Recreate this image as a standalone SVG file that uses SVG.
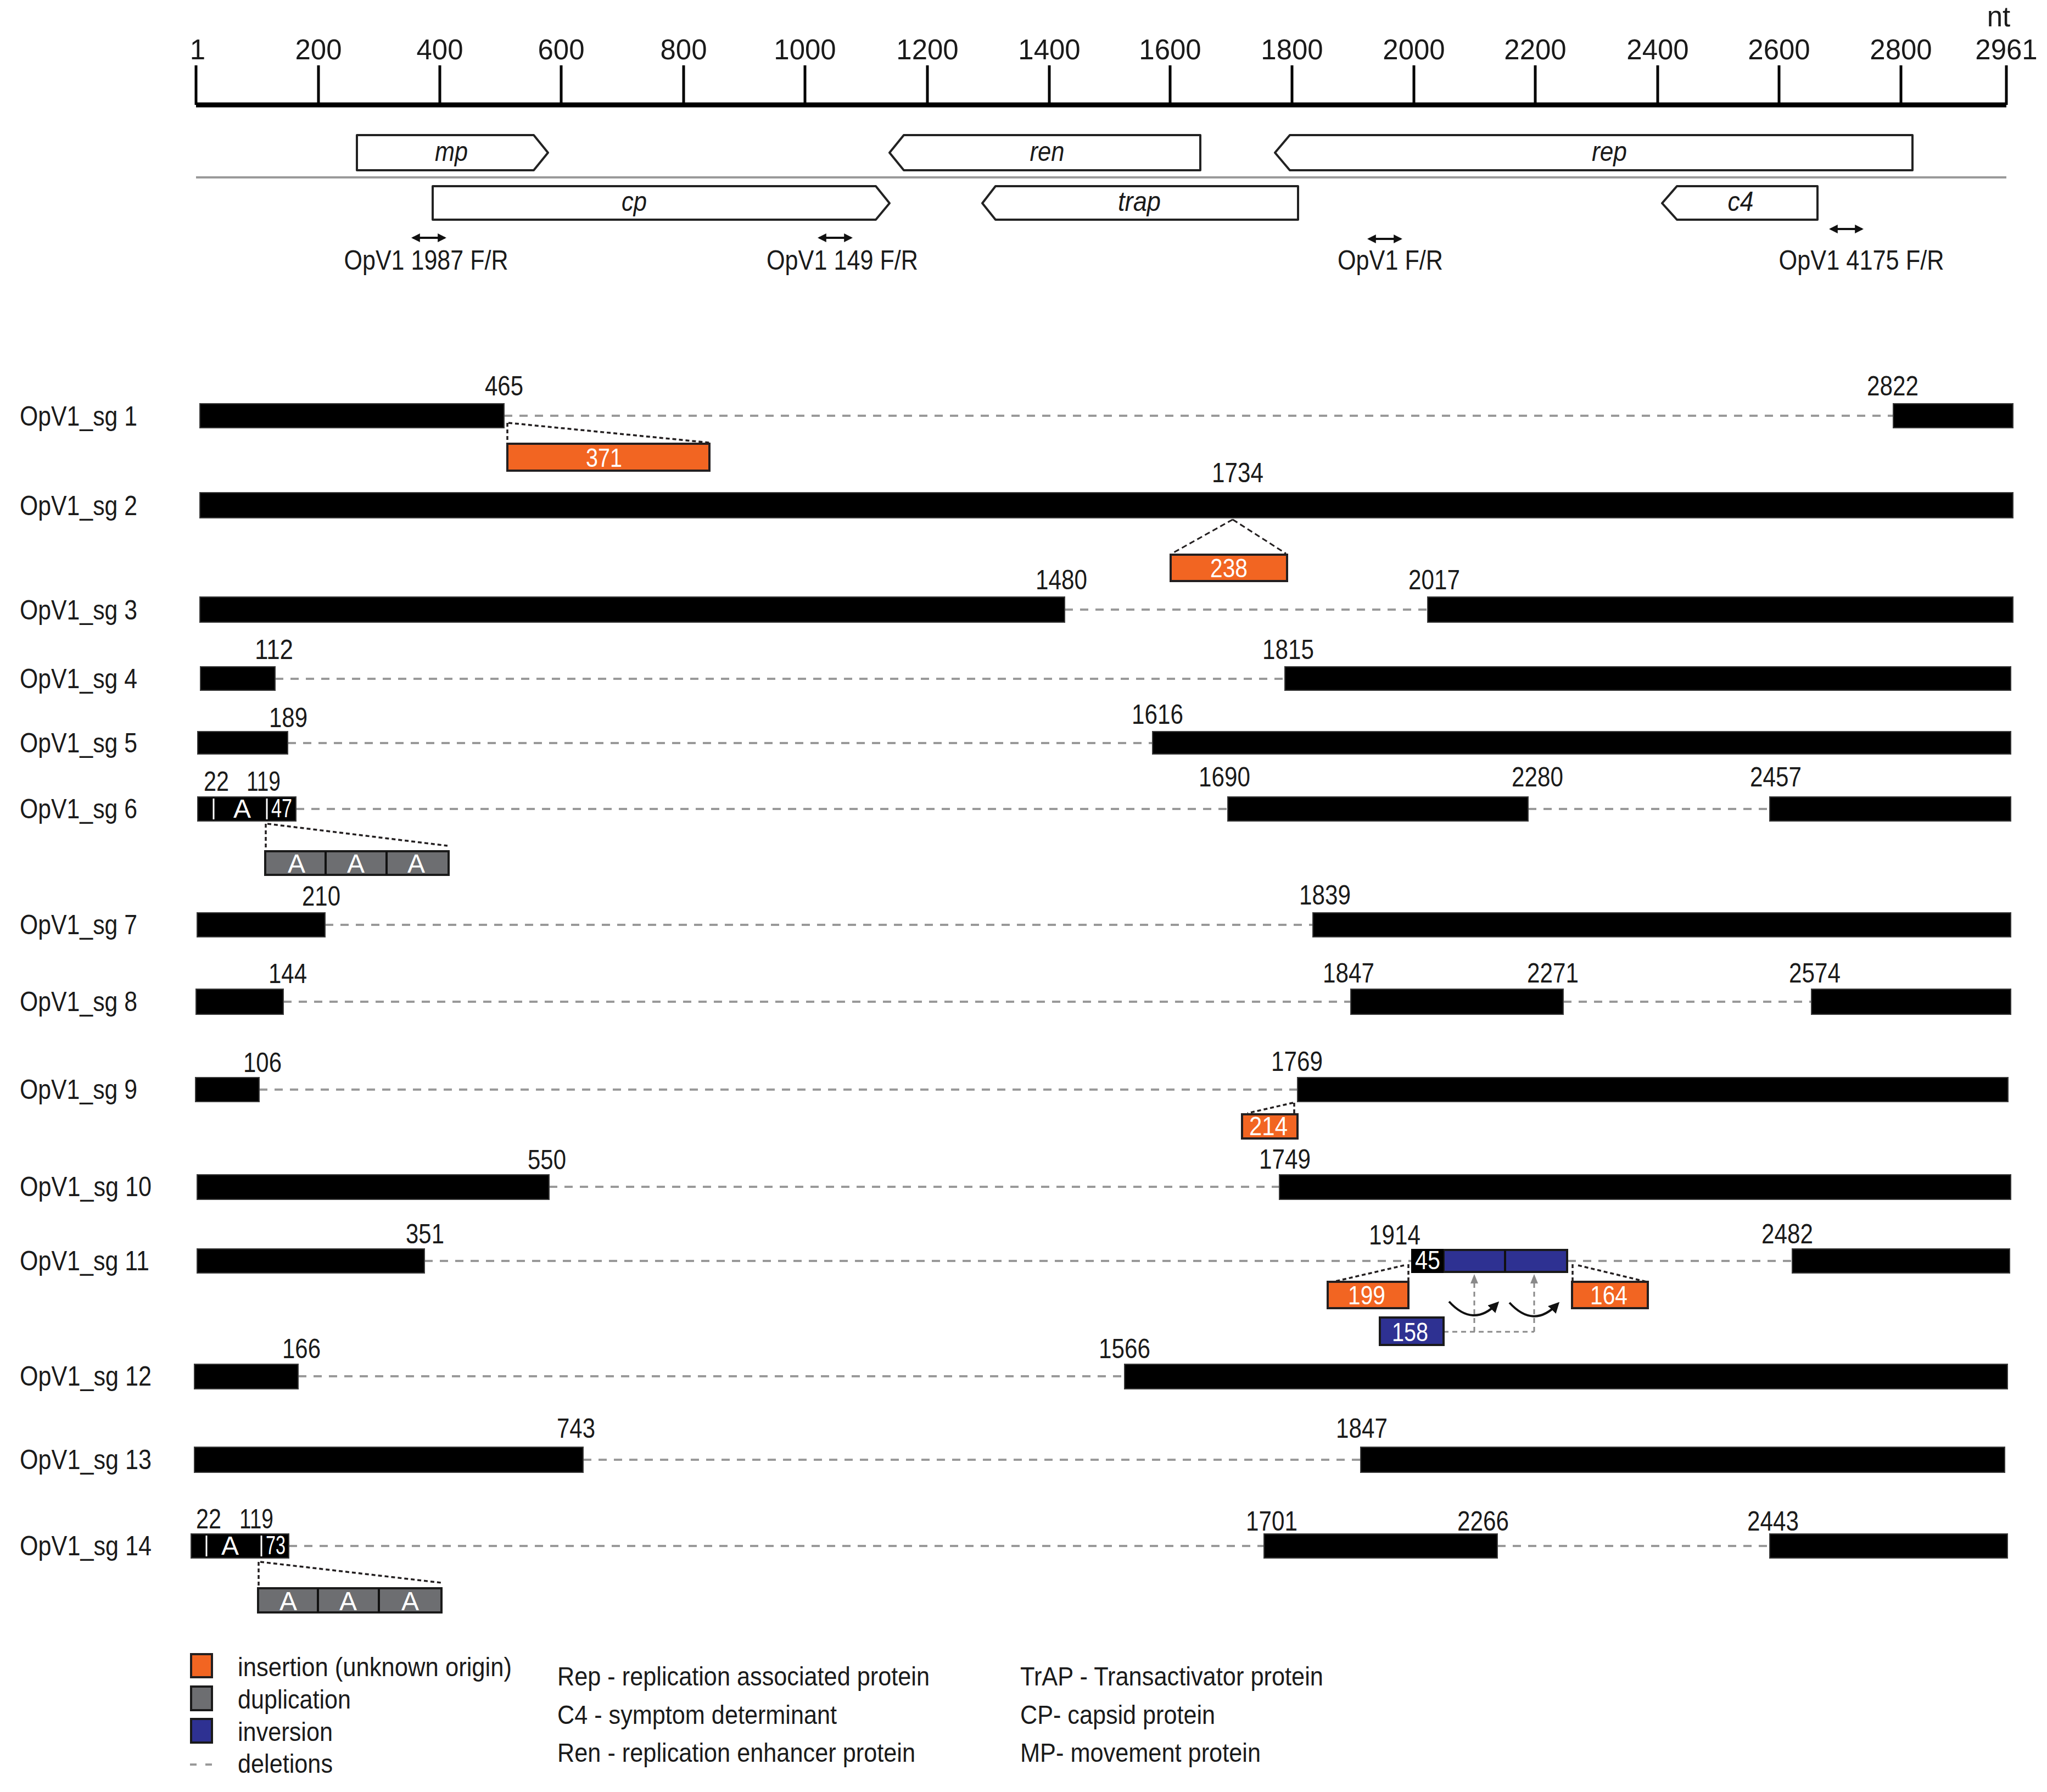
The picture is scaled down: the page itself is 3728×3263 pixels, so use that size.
<svg xmlns="http://www.w3.org/2000/svg" width="3728" height="3263" viewBox="0 0 3728 3263">
<style>
text{font-family:"Liberation Sans",Arial,sans-serif;fill:#1a1a1a}
.tk{font-size:51px;text-anchor:middle}
.lb{font-size:50px}
.n{font-size:50px;text-anchor:middle}
.w{font-size:48px;text-anchor:middle;fill:#fff}
.g{font-size:50px;font-style:italic;text-anchor:middle}
.lg{font-size:48px}
.bar{fill:#000;stroke:#3a3a3a;stroke-width:2}
.gene{fill:#fff;stroke:#222;stroke-width:4;stroke-linejoin:round}
.ins{fill:#F26522;stroke:#231F20;stroke-width:4}
.inv{fill:#2E3192;stroke:#1a1a1a;stroke-width:4}
.dup{fill:#6D6E71;stroke:#1a1a1a;stroke-width:4}
.del{stroke:#999;stroke-width:4;stroke-dasharray:15 13;fill:none}
.dot{stroke:#231F20;stroke-width:3.5;stroke-dasharray:7 5;fill:none}
.dsh{stroke:#231F20;stroke-width:3;stroke-dasharray:10 6;fill:none}
.wl{stroke:#fff;stroke-width:3}
.div{stroke:#111;stroke-width:4}
.prm{stroke:#111;stroke-width:4;marker-start:url(#ah);marker-end:url(#ah)}
.gd{stroke:#8a8a8a;stroke-width:3;stroke-dasharray:9 7;fill:none}
</style>
<defs>
<marker id="ah" viewBox="0 0 10 10" refX="8" refY="5" markerWidth="4" markerHeight="4" orient="auto-start-reverse"><path d="M0,0 L10,5 L0,10 z" fill="#111"/></marker>
<marker id="ca" viewBox="0 0 10 10" refX="7" refY="5" markerWidth="5" markerHeight="5" orient="auto"><path d="M0,0 L10,5 L0,10 z" fill="#111"/></marker>
</defs>
<rect width="3728" height="3263" fill="#fff"/>

<g id="ruler">
<line x1="357" y1="191" x2="3654" y2="191" stroke="#000" stroke-width="9"/>
<g stroke="#000" stroke-width="5">
<line x1="357" y1="119" x2="357" y2="191"/><line x1="580" y1="119" x2="580" y2="191"/><line x1="801" y1="119" x2="801" y2="191"/><line x1="1022" y1="119" x2="1022" y2="191"/><line x1="1245" y1="119" x2="1245" y2="191"/><line x1="1466" y1="119" x2="1466" y2="191"/><line x1="1689" y1="119" x2="1689" y2="191"/><line x1="1911" y1="119" x2="1911" y2="191"/><line x1="2131" y1="119" x2="2131" y2="191"/><line x1="2353" y1="119" x2="2353" y2="191"/><line x1="2575" y1="119" x2="2575" y2="191"/><line x1="2796" y1="119" x2="2796" y2="191"/><line x1="3019" y1="119" x2="3019" y2="191"/><line x1="3240" y1="119" x2="3240" y2="191"/><line x1="3462" y1="119" x2="3462" y2="191"/><line x1="3654" y1="119" x2="3654" y2="191"/>
</g>
<text class="tk" x="360" y="108">1</text><text class="tk" x="580" y="108">200</text><text class="tk" x="801" y="108">400</text><text class="tk" x="1022" y="108">600</text><text class="tk" x="1245" y="108">800</text><text class="tk" x="1466" y="108">1000</text><text class="tk" x="1689" y="108">1200</text><text class="tk" x="1911" y="108">1400</text><text class="tk" x="2131" y="108">1600</text><text class="tk" x="2353" y="108">1800</text><text class="tk" x="2575" y="108">2000</text><text class="tk" x="2796" y="108">2200</text><text class="tk" x="3019" y="108">2400</text><text class="tk" x="3240" y="108">2600</text><text class="tk" x="3462" y="108">2800</text><text class="tk" x="3654" y="108">2961</text>
<text class="tk" x="3640" y="48">nt</text>
<line x1="357" y1="323" x2="3654" y2="323" stroke="#999" stroke-width="4"/>
</g>

<g id="genes">
<g id="gene-mp"><polygon class="gene" points="650,246 972,246 998,278 972,310 650,310"/><text class="g" x="822" y="293" textLength="60" lengthAdjust="spacingAndGlyphs">mp</text></g>
<g id="gene-ren"><polygon class="gene" points="1620,278 1646,246 2186,246 2186,310 1646,310"/><text class="g" x="1907" y="293" textLength="63" lengthAdjust="spacingAndGlyphs">ren</text></g>
<g id="gene-rep"><polygon class="gene" points="2322,278 2349,246 3483,246 3483,310 2349,310"/><text class="g" x="2931" y="293" textLength="64" lengthAdjust="spacingAndGlyphs">rep</text></g>
<g id="gene-cp"><polygon class="gene" points="788,339 1595,339 1620,370 1595,400 788,400"/><text class="g" x="1155" y="384" textLength="46" lengthAdjust="spacingAndGlyphs">cp</text></g>
<g id="gene-trap"><polygon class="gene" points="1789,370 1813,339 2364,339 2364,400 1813,400"/><text class="g" x="2075" y="384" textLength="78" lengthAdjust="spacingAndGlyphs">trap</text></g>
<g id="gene-c4"><polygon class="gene" points="3027,370 3054,339 3310,339 3310,400 3054,400"/><text class="g" x="3170" y="384" textLength="47" lengthAdjust="spacingAndGlyphs">c4</text></g>
</g>

<g id="primers">
<g id="primer-1987"><line class="prm" x1="752" y1="433" x2="810" y2="433"/><text class="n" x="776" y="491" textLength="299" lengthAdjust="spacingAndGlyphs">OpV1 1987 F/R</text></g>
<g id="primer-149"><line class="prm" x1="1492" y1="433" x2="1550" y2="433"/><text class="n" x="1534" y="491" textLength="276" lengthAdjust="spacingAndGlyphs">OpV1 149 F/R</text></g>
<g id="primer-fr"><line class="prm" x1="2493" y1="435" x2="2551" y2="435"/><text class="n" x="2532" y="491" textLength="192" lengthAdjust="spacingAndGlyphs">OpV1 F/R</text></g>
<g id="primer-4175"><line class="prm" x1="3334" y1="417" x2="3391" y2="417"/><text class="n" x="3390" y="491" textLength="301" lengthAdjust="spacingAndGlyphs">OpV1 4175 F/R</text></g>
</g>

<g id="connectors">
<line class="del" x1="918" y1="757" x2="3448" y2="757"/>
<line class="del" x1="1939" y1="1110" x2="2600" y2="1110"/>
<line class="del" x1="501" y1="1236" x2="2340" y2="1236"/>
<line class="del" x1="524" y1="1353" x2="2099" y2="1353"/>
<line class="del" x1="539" y1="1473" x2="2236" y2="1473"/>
<line class="del" x1="2783" y1="1473" x2="3223" y2="1473"/>
<line class="del" x1="592" y1="1684" x2="2391" y2="1684"/>
<line class="del" x1="516" y1="1824" x2="2460" y2="1824"/>
<line class="del" x1="2847" y1="1824" x2="3299" y2="1824"/>
<line class="del" x1="472" y1="1984" x2="2363" y2="1984"/>
<line class="del" x1="1000" y1="2161" x2="2330" y2="2161"/>
<line class="del" x1="773" y1="2296" x2="2570" y2="2296"/>
<line class="del" x1="2855" y1="2296" x2="3264" y2="2296"/>
<line class="del" x1="543" y1="2506" x2="2048" y2="2506"/>
<line class="del" x1="1062" y1="2658" x2="2478" y2="2658"/>
<line class="del" x1="526" y1="2815" x2="2302" y2="2815"/>
<line class="del" x1="2727" y1="2815" x2="3223" y2="2815"/>
<path class="dot" d="M924,770 V806 M926,770 L1292,806"/>
<path class="dsh" d="M2245,946 L2134,1008 M2245,946 L2342,1008"/>
<path class="dot" d="M484,1500 V1546 M487,1500 L815,1540"/>
<path class="dot" d="M2357,2008 V2027 M2355,2008 L2272,2027"/>
<path class="dot" d="M2565,2302 V2332 M2557,2304 L2428,2334 M2864,2302 V2332 M2874,2304 L2999,2334"/>
<path class="gd" d="M2629,2425 H2794 M2685,2425 V2336 M2794,2425 V2336"/>
<polygon points="2685,2320 2678,2337 2692,2337" fill="#8a8a8a"/>
<polygon points="2794,2320 2787,2337 2801,2337" fill="#8a8a8a"/>
<path d="M2639,2370 Q2683,2418 2726,2374" fill="none" stroke="#111" stroke-width="4" marker-end="url(#ca)"/>
<path d="M2749,2372 Q2793,2420 2836,2375" fill="none" stroke="#111" stroke-width="4" marker-end="url(#ca)"/>
<path class="dot" d="M471,2844 V2889 M474,2844 L804,2882"/>
</g>

<g id="sg1"><text class="lb" x="36" y="775" textLength="214" lengthAdjust="spacingAndGlyphs">OpV1_sg 1</text>
<rect class="bar" x="364" y="735" width="554" height="44"/><rect class="bar" x="3448" y="735" width="218" height="44"/>
<text class="n" x="918" y="720" textLength="70" lengthAdjust="spacingAndGlyphs">465</text><text class="n" x="3447" y="720" textLength="94" lengthAdjust="spacingAndGlyphs">2822</text>
<rect class="ins" x="924" y="808" width="368" height="49"/><text class="w" x="1100" y="850" textLength="66" lengthAdjust="spacingAndGlyphs">371</text></g>

<g id="sg2"><text class="lb" x="36" y="938" textLength="214" lengthAdjust="spacingAndGlyphs">OpV1_sg 2</text>
<rect class="bar" x="364" y="897" width="3302" height="46"/>
<text class="n" x="2254" y="878" textLength="94" lengthAdjust="spacingAndGlyphs">1734</text>
<rect class="ins" x="2132" y="1010" width="212" height="48"/><text class="w" x="2238" y="1051" textLength="68" lengthAdjust="spacingAndGlyphs">238</text></g>

<g id="sg3"><text class="lb" x="36" y="1128" textLength="214" lengthAdjust="spacingAndGlyphs">OpV1_sg 3</text>
<rect class="bar" x="364" y="1087" width="1575" height="46"/><rect class="bar" x="2600" y="1087" width="1066" height="46"/>
<text class="n" x="1933" y="1073" textLength="94" lengthAdjust="spacingAndGlyphs">1480</text><text class="n" x="2612" y="1073" textLength="94" lengthAdjust="spacingAndGlyphs">2017</text></g>

<g id="sg4"><text class="lb" x="36" y="1253" textLength="214" lengthAdjust="spacingAndGlyphs">OpV1_sg 4</text>
<rect class="bar" x="365" y="1214" width="136" height="43"/><rect class="bar" x="2340" y="1214" width="1322" height="43"/>
<text class="n" x="499" y="1200" textLength="70" lengthAdjust="spacingAndGlyphs">112</text><text class="n" x="2346" y="1200" textLength="94" lengthAdjust="spacingAndGlyphs">1815</text></g>

<g id="sg5"><text class="lb" x="36" y="1370" textLength="214" lengthAdjust="spacingAndGlyphs">OpV1_sg 5</text>
<rect class="bar" x="360" y="1332" width="164" height="41"/><rect class="bar" x="2099" y="1332" width="1563" height="41"/>
<text class="n" x="525" y="1324" textLength="70" lengthAdjust="spacingAndGlyphs">189</text><text class="n" x="2108" y="1318" textLength="94" lengthAdjust="spacingAndGlyphs">1616</text></g>

<g id="sg6"><text class="lb" x="36" y="1490" textLength="214" lengthAdjust="spacingAndGlyphs">OpV1_sg 6</text>
<rect class="bar" x="360" y="1451" width="179" height="44"/>
<line class="wl" x1="389" y1="1454" x2="389" y2="1492"/><line class="wl" x1="486" y1="1454" x2="486" y2="1492"/>
<text class="w" x="441" y="1489" font-size="42">A</text><text class="w" x="513" y="1488" font-size="40" textLength="38" lengthAdjust="spacingAndGlyphs">47</text>
<rect class="bar" x="2236" y="1451" width="547" height="44"/><rect class="bar" x="3223" y="1451" width="439" height="44"/>
<text class="n" x="394" y="1440" font-size="46" textLength="46" lengthAdjust="spacingAndGlyphs">22</text><text class="n" x="480" y="1440" font-size="46" textLength="62" lengthAdjust="spacingAndGlyphs">119</text>
<text class="n" x="2230" y="1432" textLength="94" lengthAdjust="spacingAndGlyphs">1690</text><text class="n" x="2800" y="1432" textLength="94" lengthAdjust="spacingAndGlyphs">2280</text><text class="n" x="3234" y="1432" textLength="94" lengthAdjust="spacingAndGlyphs">2457</text>
<rect class="dup" x="483" y="1550" width="334" height="43"/><line class="div" x1="593" y1="1550" x2="593" y2="1593"/><line class="div" x1="704" y1="1550" x2="704" y2="1593"/>
<text class="w" x="540" y="1589" font-size="44">A</text><text class="w" x="648" y="1589" font-size="44">A</text><text class="w" x="758" y="1589" font-size="44">A</text></g>

<g id="sg7"><text class="lb" x="36" y="1701" textLength="214" lengthAdjust="spacingAndGlyphs">OpV1_sg 7</text>
<rect class="bar" x="359" y="1662" width="233" height="44"/><rect class="bar" x="2391" y="1662" width="1271" height="44"/>
<text class="n" x="585" y="1649" textLength="70" lengthAdjust="spacingAndGlyphs">210</text><text class="n" x="2413" y="1647" textLength="94" lengthAdjust="spacingAndGlyphs">1839</text></g>

<g id="sg8"><text class="lb" x="36" y="1841" textLength="214" lengthAdjust="spacingAndGlyphs">OpV1_sg 8</text>
<rect class="bar" x="357" y="1801" width="159" height="46"/><rect class="bar" x="2460" y="1801" width="387" height="46"/><rect class="bar" x="3299" y="1801" width="363" height="46"/>
<text class="n" x="524" y="1790" textLength="70" lengthAdjust="spacingAndGlyphs">144</text><text class="n" x="2456" y="1789" textLength="94" lengthAdjust="spacingAndGlyphs">1847</text><text class="n" x="2828" y="1789" textLength="94" lengthAdjust="spacingAndGlyphs">2271</text><text class="n" x="3305" y="1789" textLength="94" lengthAdjust="spacingAndGlyphs">2574</text></g>

<g id="sg9"><text class="lb" x="36" y="2001" textLength="214" lengthAdjust="spacingAndGlyphs">OpV1_sg 9</text>
<rect class="bar" x="356" y="1962" width="116" height="44"/><rect class="bar" x="2363" y="1962" width="1294" height="44"/>
<text class="n" x="478" y="1952" textLength="70" lengthAdjust="spacingAndGlyphs">106</text><text class="n" x="2362" y="1950" textLength="94" lengthAdjust="spacingAndGlyphs">1769</text>
<rect class="ins" x="2262" y="2029" width="101" height="44"/><text class="w" x="2310" y="2067" textLength="70" lengthAdjust="spacingAndGlyphs">214</text></g>

<g id="sg10"><text class="lb" x="36" y="2178" textLength="240" lengthAdjust="spacingAndGlyphs">OpV1_sg 10</text>
<rect class="bar" x="359" y="2139" width="641" height="45"/><rect class="bar" x="2330" y="2139" width="1332" height="45"/>
<text class="n" x="996" y="2129" textLength="70" lengthAdjust="spacingAndGlyphs">550</text><text class="n" x="2340" y="2128" textLength="94" lengthAdjust="spacingAndGlyphs">1749</text></g>

<g id="sg11"><text class="lb" x="36" y="2313" textLength="236" lengthAdjust="spacingAndGlyphs">OpV1_sg 11</text>
<rect class="bar" x="359" y="2274" width="414" height="44"/><rect class="bar" x="3264" y="2274" width="396" height="44"/>
<rect class="inv" x="2629" y="2276" width="225" height="40"/><line class="div" x1="2741" y1="2276" x2="2741" y2="2316"/>
<rect x="2570" y="2274" width="59" height="44" fill="#000"/><text class="w" x="2600" y="2311" textLength="46" lengthAdjust="spacingAndGlyphs">45</text>
<text class="n" x="774" y="2264" textLength="70" lengthAdjust="spacingAndGlyphs">351</text><text class="n" x="2540" y="2266" textLength="94" lengthAdjust="spacingAndGlyphs">1914</text><text class="n" x="3255" y="2264" textLength="94" lengthAdjust="spacingAndGlyphs">2482</text>
<rect class="ins" x="2418" y="2334" width="147" height="48"/><text class="w" x="2489" y="2375" textLength="68" lengthAdjust="spacingAndGlyphs">199</text>
<rect class="ins" x="2863" y="2334" width="138" height="48"/><text class="w" x="2930" y="2375" textLength="68" lengthAdjust="spacingAndGlyphs">164</text>
<rect class="inv" x="2513" y="2399" width="116" height="50"/><text class="w" x="2568" y="2442" textLength="66" lengthAdjust="spacingAndGlyphs">158</text></g>

<g id="sg12"><text class="lb" x="36" y="2523" textLength="240" lengthAdjust="spacingAndGlyphs">OpV1_sg 12</text>
<rect class="bar" x="354" y="2484" width="189" height="45"/><rect class="bar" x="2048" y="2484" width="1608" height="45"/>
<text class="n" x="549" y="2473" textLength="70" lengthAdjust="spacingAndGlyphs">166</text><text class="n" x="2048" y="2473" textLength="94" lengthAdjust="spacingAndGlyphs">1566</text></g>

<g id="sg13"><text class="lb" x="36" y="2675" textLength="240" lengthAdjust="spacingAndGlyphs">OpV1_sg 13</text>
<rect class="bar" x="354" y="2635" width="708" height="46"/><rect class="bar" x="2478" y="2635" width="1173" height="46"/>
<text class="n" x="1049" y="2618" textLength="70" lengthAdjust="spacingAndGlyphs">743</text><text class="n" x="2480" y="2618" textLength="94" lengthAdjust="spacingAndGlyphs">1847</text></g>

<g id="sg14"><text class="lb" x="36" y="2832" textLength="240" lengthAdjust="spacingAndGlyphs">OpV1_sg 14</text>
<rect class="bar" x="348" y="2793" width="178" height="44"/>
<line class="wl" x1="376" y1="2796" x2="376" y2="2834"/><line class="wl" x1="476" y1="2796" x2="476" y2="2834"/>
<text class="w" x="419" y="2831" font-size="42">A</text><text class="w" x="502" y="2830" font-size="40" textLength="36" lengthAdjust="spacingAndGlyphs">73</text>
<rect class="bar" x="2302" y="2793" width="425" height="44"/><rect class="bar" x="3223" y="2793" width="433" height="44"/>
<text class="n" x="380" y="2783" font-size="46" textLength="46" lengthAdjust="spacingAndGlyphs">22</text><text class="n" x="467" y="2783" font-size="46" textLength="62" lengthAdjust="spacingAndGlyphs">119</text>
<text class="n" x="2316" y="2787" textLength="94" lengthAdjust="spacingAndGlyphs">1701</text><text class="n" x="2701" y="2787" textLength="94" lengthAdjust="spacingAndGlyphs">2266</text><text class="n" x="3229" y="2787" textLength="94" lengthAdjust="spacingAndGlyphs">2443</text>
<rect class="dup" x="470" y="2892" width="334" height="44"/><line class="div" x1="579" y1="2892" x2="579" y2="2936"/><line class="div" x1="690" y1="2892" x2="690" y2="2936"/>
<text class="w" x="525" y="2932" font-size="44">A</text><text class="w" x="634" y="2932" font-size="44">A</text><text class="w" x="747" y="2932" font-size="44">A</text></g>

<g id="legend">
<rect class="ins" x="348" y="3012" width="38" height="42"/>
<rect class="dup" x="348" y="3071" width="38" height="43"/>
<rect class="inv" x="348" y="3130" width="38" height="43"/>
<path d="M346,3213 H358 M374,3213 H386" stroke="#999" stroke-width="4"/>
<text class="lg" x="433" y="3052" textLength="499" lengthAdjust="spacingAndGlyphs">insertion (unknown origin)</text>
<text class="lg" x="433" y="3111" textLength="206" lengthAdjust="spacingAndGlyphs">duplication</text>
<text class="lg" x="433" y="3170" textLength="173" lengthAdjust="spacingAndGlyphs">inversion</text>
<text class="lg" x="433" y="3228" textLength="173" lengthAdjust="spacingAndGlyphs">deletions</text>
<text class="lg" x="1015" y="3069" textLength="678" lengthAdjust="spacingAndGlyphs">Rep - replication associated protein</text>
<text class="lg" x="1015" y="3139" textLength="509" lengthAdjust="spacingAndGlyphs">C4 - symptom determinant</text>
<text class="lg" x="1015" y="3208" textLength="652" lengthAdjust="spacingAndGlyphs">Ren - replication enhancer protein</text>
<text class="lg" x="1858" y="3069" textLength="552" lengthAdjust="spacingAndGlyphs">TrAP - Transactivator protein</text>
<text class="lg" x="1858" y="3139" textLength="355" lengthAdjust="spacingAndGlyphs">CP- capsid protein</text>
<text class="lg" x="1858" y="3208" textLength="438" lengthAdjust="spacingAndGlyphs">MP- movement protein</text>
</g>
</svg>
